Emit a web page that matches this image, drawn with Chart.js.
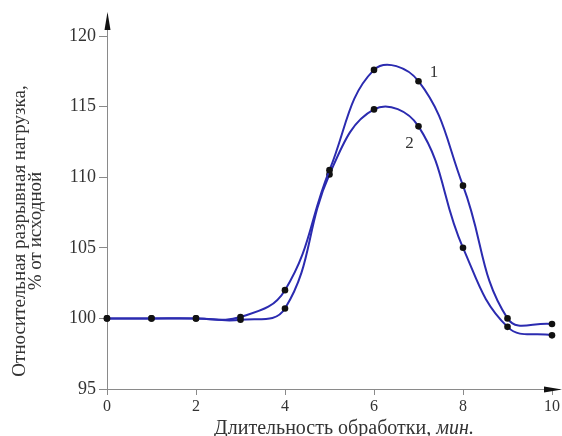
<!DOCTYPE html>
<html><head><meta charset="utf-8">
<script src="https://cdn.jsdelivr.net/npm/chart.js@4/dist/chart.umd.min.js"></script>
<style>html,body{margin:0;padding:0;background:#fff}#wrap{width:562px;height:436px}</style>
</head><body><div id="wrap"><canvas id="c" width="562" height="436"></canvas></div>
<script>
const xValues = [0, 1, 2, 3, 4, 5, 6, 7, 8, 9, 10];
const series1 = [100, 100, 100, 100.1, 102, 110.5, 117.6, 116.8, 109.4, 100, 99.6];
const series2 = [100, 100, 100, 99.9, 100.7, 110.2, 114.8, 113.6, 105, 99.4, 98.8];
const seriesNames = ['1', '2'];
const xTitle = 'Длительность обработки, ';
const xTitleUnit = 'мин.';
const yTitle = ['Относительная разрывная нагрузка,', '% от исходной'];

const FONT = "'Liberation Serif', 'DejaVu Serif', serif";
const LINE = '#2b2bb0';
const AXIS = '#8a8a8a';
const TEXT = '#333';

const curveLabels = [
  {text: seriesNames[0], x: 7.35, y: 117.4},
  {text: seriesNames[1], x: 6.8, y: 112.4}
];

const extras = {
  id: 'extras',
  afterDraw(chart) {
    const {ctx, chartArea: a, scales} = chart;
    ctx.save();
    // axis extensions and arrows
    ctx.strokeStyle = AXIS; ctx.fillStyle = '#111'; ctx.lineWidth = 1;
    ctx.beginPath();
    ctx.moveTo(a.left + 0.5, a.top); ctx.lineTo(a.left + 0.5, 14);
    ctx.moveTo(a.right, a.bottom + 0.5); ctx.lineTo(560, a.bottom + 0.5);
    ctx.stroke();
    ctx.beginPath();
    ctx.moveTo(a.left + 0.5, 12); ctx.lineTo(a.left - 2.5, 30); ctx.lineTo(a.left + 3.5, 30); ctx.closePath(); ctx.fill();
    ctx.beginPath();
    ctx.moveTo(562, a.bottom + 0.5); ctx.lineTo(544, a.bottom - 2.5); ctx.lineTo(544, a.bottom + 3.5); ctx.closePath(); ctx.fill();
    // curve labels
    ctx.fillStyle = TEXT;
    ctx.font = '17px ' + FONT;
    ctx.textAlign = 'center'; ctx.textBaseline = 'middle';
    curveLabels.forEach(l => {
      ctx.fillText(l.text, scales.x.getPixelForValue(l.x), scales.y.getPixelForValue(l.y));
    });
    // y title (rotated, two lines)
    ctx.save();
    ctx.translate(0, 231);
    ctx.rotate(-Math.PI / 2);
    ctx.font = '19px ' + FONT;
    ctx.textAlign = 'center'; ctx.textBaseline = 'middle';
    ctx.fillText(yTitle[0], 0, 20);
    ctx.fillText(yTitle[1], 0, 36);
    ctx.restore();
    // x title with italic unit
    ctx.textBaseline = 'alphabetic';
    ctx.textAlign = 'left';
    ctx.font = '20px ' + FONT;
    const w1 = ctx.measureText(xTitle).width;
    ctx.font = 'italic 20px ' + FONT;
    const w2 = ctx.measureText(xTitleUnit).width;
    const cx = 344;
    const sx = cx - (w1 + w2) / 2;
    ctx.font = '20px ' + FONT;
    ctx.fillText(xTitle, sx, 434);
    ctx.font = 'italic 20px ' + FONT;
    ctx.fillText(xTitleUnit, sx + w1, 434);
    ctx.restore();
  }
};

new Chart(document.getElementById('c'), {
  type: 'line',
  data: {
    labels: xValues,
    datasets: [
      {label: seriesNames[0], data: xValues.map((x, i) => ({x, y: series1[i]}))},
      {label: seriesNames[1], data: xValues.map((x, i) => ({x, y: series2[i]}))}
    ].map(d => Object.assign(d, {
      borderColor: LINE, borderWidth: 2, tension: 0.42,
      pointRadius: 3.3, pointBackgroundColor: '#111', pointBorderColor: '#111', pointBorderWidth: 0,
      clip: false, fill: false
    }))
  },
  options: {
    responsive: false, animation: false, devicePixelRatio: 1,
    layout: {padding: {left: 0, right: 10, top: 36, bottom: 0}},
    plugins: {legend: {display: false}, tooltip: {enabled: false}},
    scales: {
      x: {
        type: 'linear', min: 0, max: 10,
        ticks: {stepSize: 2, color: TEXT, font: {family: FONT, size: 16}, padding: 2, maxRotation: 0},
        grid: {drawOnChartArea: false, drawTicks: true, tickLength: 6, color: AXIS},
        border: {display: true, color: AXIS},
        afterFit(s) { s.height = 47; }
      },
      y: {
        min: 95, max: 120,
        ticks: {stepSize: 5, color: TEXT, font: {family: FONT, size: 18}, padding: 3},
        grid: {drawOnChartArea: false, drawTicks: true, tickLength: 8, color: AXIS},
        border: {display: true, color: AXIS},
        afterFit(s) { s.width = 107; }
      }
    }
  },
  plugins: [extras]
});
</script></body></html>
